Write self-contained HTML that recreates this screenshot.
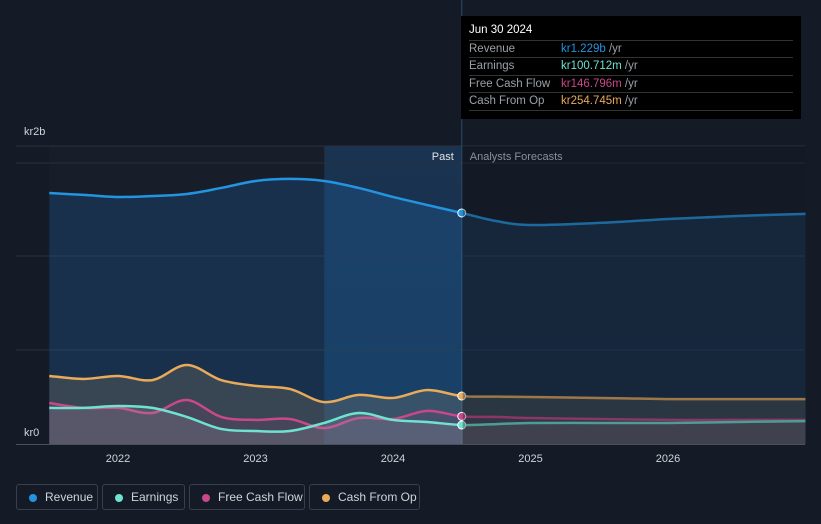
<!DOCTYPE html>
<html><head><meta charset="utf-8"><style>
body{margin:0;background:#151b26;width:821px;height:524px;overflow:hidden;font-family:"Liberation Sans",sans-serif}
.leg{position:absolute;top:484px;height:26px;border:1px solid #3a404b;border-radius:3px;box-sizing:border-box;color:#d0d3d8;font-size:12px;line-height:25px;padding-left:28px}
.leg i{position:absolute;left:12px;top:9px;width:8px;height:8px;border-radius:50%}
</style></head><body>
<svg id="chart" width="821" height="524" style="position:absolute;left:0;top:0"></svg>
<div class="leg" style="left:16px;width:82px"><i style="background:#2394df"></i>Revenue</div>
<div class="leg" style="left:102px;width:83px"><i style="background:#6ee3cf"></i>Earnings</div>
<div class="leg" style="left:189px;width:116px"><i style="background:#c8488a"></i>Free Cash Flow</div>
<div class="leg" style="left:309px;width:111px"><i style="background:#e9aa59"></i>Cash From Op</div>
<div style="position:absolute;left:461px;top:16px;width:340px;height:103px;background:#000;font-size:11.5px;color:#9aa0a8">
 <div style="position:absolute;left:8px;top:8px;color:#fff;font-size:11.5px">Jun 30 2024</div>
 <div style="position:absolute;left:8px;right:8px;top:24px;border-top:1px solid #333"></div>
 <div style="position:absolute;left:8px;top:27px">Revenue</div><div style="position:absolute;left:100px;top:27px"><span style="color:#2394df">kr1.229b</span> /yr</div>
 <div style="position:absolute;left:8px;right:8px;top:41px;border-top:1px solid #333"></div>
 <div style="position:absolute;left:8px;top:44px">Earnings</div><div style="position:absolute;left:100px;top:44px"><span style="color:#6ee3cf">kr100.712m</span> /yr</div>
 <div style="position:absolute;left:8px;right:8px;top:59px;border-top:1px solid #333"></div>
 <div style="position:absolute;left:8px;top:62px">Free Cash Flow</div><div style="position:absolute;left:100px;top:62px"><span style="color:#c8488a">kr146.796m</span> /yr</div>
 <div style="position:absolute;left:8px;right:8px;top:76px;border-top:1px solid #333"></div>
 <div style="position:absolute;left:8px;top:79px">Cash From Op</div><div style="position:absolute;left:100px;top:79px"><span style="color:#e9aa59">kr254.745m</span> /yr</div>
 <div style="position:absolute;left:8px;right:8px;top:94px;border-top:1px solid #333"></div>
</div>
<script>
const dates=[2021.5,2021.75,2022,2022.25,2022.5,2022.75,2023,2023.25,2023.5,2023.75,2024,2024.25,2024.5,2024.75,2025,2025.5,2026,2026.5,2027];
const revenue=[1335,1325,1314,1319,1330,1362,1399,1410,1399,1362,1314,1271,1229,1186,1165,1176,1197,1213,1224];
const earnings=[192,192,202,192,144,80,69,69,112,165,128,117,101,106,112,112,112,117,122];
const fcf=[218,192,192,165,234,144,128,133,85,138,133,176,147,144,138,133,128,128,128];
const cfo=[362,346,362,340,420,340,309,293,223,261,245,287,255,252,250,245,239,239,239];
const xTicks=[2022,2023,2024,2025,2026];
const splitDate=2024.5;
const NS="http://www.w3.org/2000/svg";
const svg=document.getElementById('chart');
const X=t=>118+(t-2022)*137.5;
const Y=v=>444-v*0.188;
function el(tag,attrs,parent){const e=document.createElementNS(NS,tag);for(const k in attrs)e.setAttribute(k,attrs[k]);(parent||svg).appendChild(e);return e;}
const defs=el('defs',{});
const g2=el('linearGradient',{id:'hl',x1:0,y1:0,x2:0,y2:1},defs);
el('stop',{offset:0,'stop-color':'#1a3350'},g2);el('stop',{offset:1,'stop-color':'#16304a'},g2);
let r=el('rect',{x:X(2021.5),y:146,width:X(2023.5)-X(2021.5),height:298,fill:'#171d29'});

r=el('rect',{x:X(2023.5),y:146,width:X(splitDate)-X(2023.5),height:298,fill:'url(#hl)'});

[146,163,256,350].forEach(y=>{const l=el('line',{x1:16,x2:805,y1:y,y2:y,stroke:'#2a303b','stroke-width':1});});
const base=el('line',{x1:16,x2:805,y1:444.5,y2:444.5,stroke:'#4a505b'});
const vl=el('line',{x1:X(splitDate),x2:X(splitDate),y1:0,y2:444,stroke:'#2b4a68'});
function path(vals){const p=dates.map((d,i)=>[X(d),Y(vals[i])]);let s=`M${p[0][0]},${p[0][1]}`;
for(let i=0;i<p.length-1;i++){const p0=p[Math.max(0,i-1)],p1=p[i],p2=p[i+1],p3=p[Math.min(p.length-1,i+2)];
s+=` C${p1[0]+(p2[0]-p0[0])/6},${p1[1]+(p2[1]-p0[1])/6} ${p2[0]-(p3[0]-p1[0])/6},${p2[1]-(p3[1]-p1[1])/6} ${p2[0]},${p2[1]}`;}return s;}
const series=[['revenue',revenue,'#2394df','rgba(35,120,200,0.22)'],['cash-from-op',cfo,'#e9aa59','rgba(200,170,120,0.18)'],['free-cash-flow',fcf,'#c8488a','rgba(200,72,138,0.1)'],['earnings',earnings,'#6ee3cf','rgba(160,160,170,0.2)']];
const si=dates.indexOf(splitDate);
series.forEach(([n,v,c,f])=>{
 const d=path(v);
 const a=el('path',{d:d+` L${X(dates[dates.length-1])},444 L${X(dates[0])},444 Z`,fill:f});
 
 const l=el('path',{d:d,fill:'none',stroke:c,'stroke-width':2.5});
 
 const m=el('circle',{cx:X(dates[si]),cy:Y(v[si]),r:4,fill:c,stroke:'#fff','stroke-width':1});
 
});
r=el('rect',{x:X(splitDate)+1,y:146,width:805-X(splitDate),height:298,fill:'rgba(21,27,38,0.35)'});

function txt(s,x,y,o){const t=el('text',Object.assign({x:x,y:y,fill:'#d0d3d8','font-size':11,'font-family':'Liberation Sans, sans-serif'},o||{}));t.textContent=s;return t;}
let t=txt('kr2b',24,135);
t=txt('kr0',24,436);
t=txt('Past',X(splitDate)-8,160,{'text-anchor':'end',fill:'#e0e3e8'});
t=txt('Analysts Forecasts',X(splitDate)+8,160,{fill:'#8a9099'});
xTicks.forEach(y=>{const tt=txt(String(y),X(y),462,{'text-anchor':'middle'});});
</script>
</body></html>
